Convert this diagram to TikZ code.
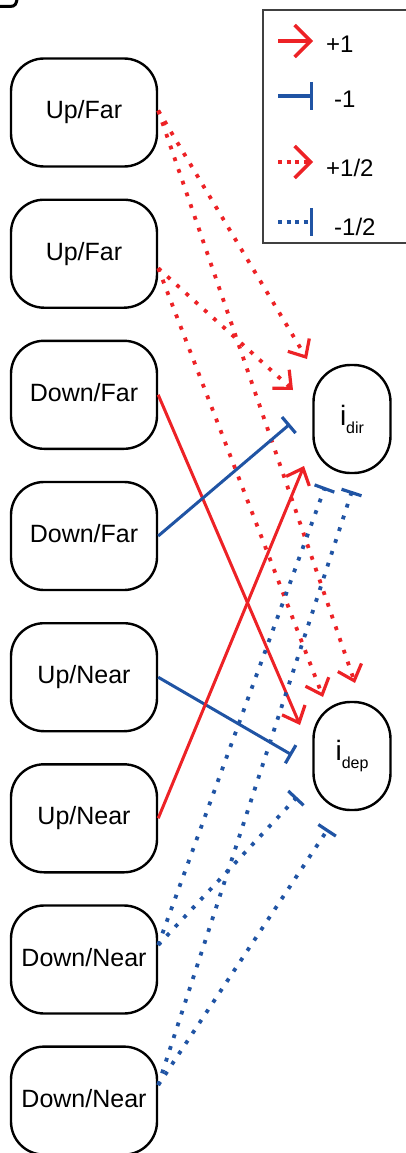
\documentclass[tikz,border=0pt]{standalone}
\usepackage{fontspec}
\setmainfont{Liberation Sans}
\usetikzlibrary{arrows.meta,calc}
\definecolor{myred}{RGB}{237,34,38}
\definecolor{myblue}{RGB}{32,84,164}
\begin{document}
\begin{tikzpicture}[x=1pt,y=-1pt,
  state/.style={draw=black, line width=2.4pt, rounded corners=33pt,
    minimum width=146pt, minimum height=108pt, inner sep=0pt,
    text height=18pt, text depth=5pt, font=\fontsize{25}{30}\selectfont},
  target/.style={draw=black, line width=2.4pt, rounded corners=37pt,
    minimum width=77pt, minimum height=108pt, inner sep=0pt},
  act/.style={myred, line width=3pt, line cap=butt,
    -{Straight Barb[length=14pt,width=25pt,line width=3.2pt]}},
  inh/.style={myblue, line width=3pt, line cap=butt,
    -{Bar[width=21pt,line width=3.2pt]}},
  halfdots/.style={line width=3.8pt, dash pattern=on 3.8pt off 8.6pt},
  legact/.style={myred, line width=3.2pt,
    -{Straight Barb[length=16pt,width=32pt,line width=3.4pt]}},
  leginh/.style={myblue, line width=3.2pt,
    -{Bar[width=28pt,line width=3.4pt]}},
  legdots/.style={line width=3.6pt, dash pattern=on 4pt off 4.5pt},
  legtext/.style={anchor=base west, inner sep=0pt, font=\fontsize{24}{28}\selectfont},
  frag/.style={draw=black, line width=3pt}
]
\useasboundingbox (0,0) rectangle (405,1153);

% fragment of a neighbouring panel, top left
\draw[frag] (-3,6.5) -- (10,6.5) .. controls (15,6.5) and (17,4) .. (17,-3);

% legend
\draw[line width=1.5pt, draw=black!75] (263,10) rectangle (415,243);
\coordinate (la1) at (278,41);  \coordinate (lb1) at (313,41);
\coordinate (la2) at (278,96);  \coordinate (lb2) at (313,96);
\coordinate (la3) at (278,162); \coordinate (lb3) at (313,162);
\coordinate (la4) at (278,222); \coordinate (lb4) at (313,222);
\draw[legact] (la1) -- (lb1);
\draw[leginh] (la2) -- (lb2);
\draw[legact, legdots] (la3) -- (lb3);
\draw[leginh, legdots] (la4) -- (lb4);
\node[legtext] (lt1) at (326,53) {+1};
\node[legtext] (lt2) at (334,108) {-1};
\node[legtext] (lt3) at (326,176) {+1/2};
\node[legtext] (lt4) at (334,235) {-1/2};

% left nodes
\node[state] (uf1) at (84,112.5) {Up/Far};
\node[state] (uf2) at (84,253.7) {Up/Far};
\node[state] (df1) at (84,394.8) {Down/Far};
\node[state] (df2) at (84,536) {Down/Far};
\node[state] (un1) at (84,677.2) {Up/Near};
\node[state] (un2) at (84,818.3) {Up/Near};
\node[state] (dn1) at (84,959.5) {Down/Near};
\node[state] (dn2) at (84,1100.6) {Down/Near};

% right nodes
\node[target] (dir) at (352,419) {\fontsize{28}{30}\selectfont i\raisebox{-8pt}{\fontsize{16}{18}\selectfont dir}};
\node[target] (dep) at (352,756) {\fontsize{28}{30}\selectfont i\raisebox{-8pt}{\fontsize{16}{18}\selectfont dep}};

% end points next to the targets
\coordinate (e1) at (307,359);
\coordinate (e2) at (355,683);
\coordinate (e3) at (293,390);
\coordinate (e4) at (323,697);
\coordinate (e5) at (300,725);
\coordinate (e6) at (290,424);
\coordinate (e7) at (292,755);
\coordinate (e8) at (304,466);
\coordinate (e9) at (325,487);
\coordinate (e10) at (297,797);
\coordinate (e11) at (352,491);
\coordinate (e12) at (328,829);

% connectors
\draw[act, halfdots] ($(uf1.east)+(0,-2)$) -- (e1);
\draw[act, halfdots] ($(uf1.east)+(0,-2)$) -- (e2);
\draw[act, halfdots] ($(uf2.east)+(0,14.5)$) -- (e3);
\draw[act, halfdots] ($(uf2.east)+(0,14.5)$) -- (e4);
\draw[act] (df1.east) -- (e5);
\draw[inh] (df2.east) -- (e6);
\draw[inh] (un1.east) -- (e7);
\draw[act] (un2.east) -- (e8);
\draw[inh, halfdots] ($(dn1.east)+(0,-14.5)$) -- (e9);
\draw[inh, halfdots] ($(dn1.east)+(0,-14.5)$) -- (e10);
\draw[inh, halfdots] ($(dn2.east)+(0,-15.5)$) -- (e11);
\draw[inh, halfdots] ($(dn2.east)+(0,-15.5)$) -- (e12);
\end{tikzpicture}
\end{document}
